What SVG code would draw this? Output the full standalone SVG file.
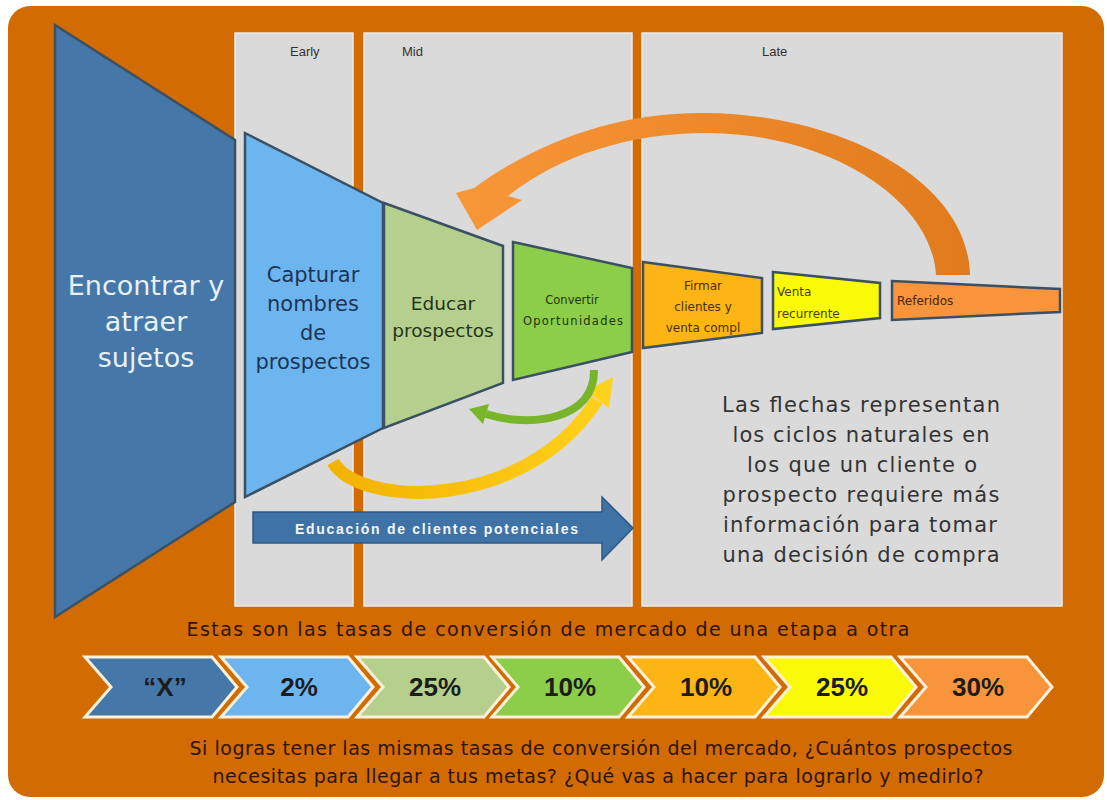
<svg xmlns="http://www.w3.org/2000/svg" width="1107" height="800" viewBox="0 0 1107 800">
<defs>
<linearGradient id="gOrange" gradientUnits="userSpaceOnUse" x1="460" y1="0" x2="975" y2="0">
<stop offset="0" stop-color="#f89738"/><stop offset="1" stop-color="#e07a1c"/>
</linearGradient>
<linearGradient id="gYellow" gradientUnits="userSpaceOnUse" x1="330" y1="0" x2="615" y2="0">
<stop offset="0" stop-color="#f2b200"/><stop offset="1" stop-color="#ffd21c"/>
</linearGradient>
<style>
.panel{fill:#dadada;stroke:#ebebeb;stroke-width:1.5}
.seg{stroke:#3b5063;stroke-width:2.5;stroke-linejoin:miter}
.stage{font-family:"Liberation Sans",Arial,sans-serif;font-size:13px;fill:#333}
.big{font-family:"DejaVu Sans",Verdana,sans-serif;text-anchor:middle}
.chev{stroke:#fdf1dc;stroke-width:3}
.rate{font-family:"Liberation Sans",Arial,sans-serif;font-weight:bold;font-size:26px;text-anchor:middle;fill:#1c1c1c}
.note{font-family:"DejaVu Sans",Verdana,sans-serif;font-size:21px;fill:#333;text-anchor:middle}
.foot{font-family:"DejaVu Sans",Verdana,sans-serif;font-size:19px;fill:#2e1405;text-anchor:middle}
</style>
</defs>
<rect x="0" y="0" width="1107" height="800" fill="#ffffff"/>
<rect x="8" y="6" width="1096" height="791" rx="22" fill="#d16b02"/>
<g id="panels">
<rect class="panel" x="235" y="33" width="118" height="573"/>
<rect class="panel" x="364" y="33" width="268" height="573"/>
<rect class="panel" x="642" y="33" width="420" height="573"/>
<text class="stage" x="290" y="56">Early</text>
<text class="stage" x="402" y="56">Mid</text>
<text class="stage" x="762" y="56">Late</text>
</g>
<g id="seg-encontrar">
<polygon class="seg" points="55,25 235,140 235,502 55,617" fill="#4577a8"/>
<text class="big" font-size="27" fill="#e8f0f8"><tspan x="146" y="295">Encontrar y</tspan><tspan x="146" y="331">atraer</tspan><tspan x="146" y="367">sujetos</tspan></text>
</g>
<g id="seg-capturar">
<polygon class="seg" points="245,133 383,203 383,428 245,497" fill="#6db5ef"/>
<text class="big" font-size="21" fill="#1d3557"><tspan x="313" y="282">Capturar</tspan><tspan x="313" y="311">nombres</tspan><tspan x="313" y="340">de</tspan><tspan x="313" y="369">prospectos</tspan></text>
</g>
<g id="seg-educar">
<polygon class="seg" points="384,203 503,246 503,383 384,428" fill="#b5d08c"/>
<text class="big" font-size="18.5" fill="#26331a"><tspan x="443" y="310">Educar</tspan><tspan x="443" y="337">prospectos</tspan></text>
</g>
<g id="seg-convertir">
<polygon class="seg" points="513,242 632,268 632,352 513,380" fill="#8ccd4a"/>
<text class="big" font-size="11.5" fill="#24330f"><tspan x="572" y="304">Convertir</tspan><tspan x="573" y="325" textLength="100">Oportunidades</tspan></text>
</g>
<g id="seg-firmar">
<polygon class="seg" points="643,262 762,278 762,333 643,348" fill="#fdb515"/>
<text class="big" font-size="12" fill="#4a3008"><tspan x="703" y="290">Firmar</tspan><tspan x="703" y="311">clientes y</tspan><tspan x="703" y="332">venta compl</tspan></text>
</g>
<g id="seg-venta">
<polygon class="seg" points="773,272 880,283 880,318 773,329" fill="#fafa08"/>
<text font-family="DejaVu Sans,Verdana,sans-serif" font-size="12" fill="#4a4008"><tspan x="777" y="296">Venta</tspan><tspan x="777" y="318">recurrente</tspan></text>
</g>
<g id="seg-referidos">
<polygon class="seg" points="892,281 1060,289 1060,312 892,320" fill="#f7943c"/>
<text font-family="DejaVu Sans,Verdana,sans-serif" font-size="12" fill="#4a2508" x="897" y="305">Referidos</text>
</g>
<g id="connectors">
<path d="M 970,275 C 968,180 840,114 705,113 C 620,112 540,140 474,188 L 456,193 L 477,230 L 522,200 L 508,196 C 560,155 630,133 708,133 C 830,134 932,200 936,275 Z" fill="url(#gOrange)"/>
<path d="M 333,462 C 360,508 525,512 597,400" fill="none" stroke="url(#gYellow)" stroke-width="13"/>
<polygon points="613,377 586,391 609,408" fill="#ffd21c"/>
<path d="M 594,370 C 595,420 530,428 486,414" fill="none" stroke="#78b52a" stroke-width="8"/>
<polygon points="469,409 489,404 483,424" fill="#78b52a"/>
</g>
<g id="edu-arrow">
<polygon points="253,512 602,512 602,497 633,528 602,560 602,543 253,543" fill="#3f72a5" stroke="#2f5a85" stroke-width="1.5"/>
<text font-family="Liberation Sans,Arial,sans-serif" font-weight="bold" font-size="14" fill="#f2f6fa" x="295" y="534" textLength="283">Educación de clientes potenciales</text>
</g>
<g id="note">
<text class="note"><tspan x="861" y="412" textLength="278">Las flechas representan</tspan><tspan x="861" y="442" textLength="257">los ciclos naturales en</tspan><tspan x="862" y="472" textLength="230">los que un cliente o</tspan><tspan x="861" y="502" textLength="277">prospecto requiere más</tspan><tspan x="860" y="532" textLength="274">información para tomar</tspan><tspan x="861" y="562" textLength="277">una decisión de compra</tspan></text>
</g>
<g id="rates-title">
<text class="foot" x="548" y="636" textLength="723">Estas son las tasas de conversión de mercado de una etapa a otra</text>
</g>
<g id="rates">
<g id="rate-x"><polygon class="chev" points="85,657 212,657 237,687 212,717 85,717 111,687" fill="#4577a8"/><text class="rate" x="165" y="696" fill="#1b2b45">“X”</text></g>
<g id="rate-2"><polygon class="chev" points="221,657 348,657 373,687 348,717 221,717 247,687" fill="#6db5ef"/><text class="rate" x="299" y="696" fill="#1b2b45">2%</text></g>
<g id="rate-25a"><polygon class="chev" points="357,657 484,657 509,687 484,717 357,717 383,687" fill="#b5d08c"/><text class="rate" x="435" y="696">25%</text></g>
<g id="rate-10a"><polygon class="chev" points="492,657 619,657 644,687 619,717 492,717 518,687" fill="#8ccd4a"/><text class="rate" x="570" y="696">10%</text></g>
<g id="rate-10b"><polygon class="chev" points="628,657 755,657 780,687 755,717 628,717 654,687" fill="#fdb515"/><text class="rate" x="706" y="696">10%</text></g>
<g id="rate-25b"><polygon class="chev" points="764,657 891,657 916,687 891,717 764,717 790,687" fill="#fafa08"/><text class="rate" x="842" y="696">25%</text></g>
<g id="rate-30"><polygon class="chev" points="900,657 1027,657 1052,687 1027,717 900,717 926,687" fill="#f7943c"/><text class="rate" x="978" y="696">30%</text></g>
</g>
<g id="footer">
<text class="foot"><tspan x="601" y="755" textLength="823">Si logras tener las mismas tasas de conversión del mercado, ¿Cuántos prospectos</tspan><tspan x="598" y="783" textLength="771">necesitas para llegar a tus metas? ¿Qué vas a hacer para lograrlo y medirlo?</tspan></text>
</g>
</svg>
